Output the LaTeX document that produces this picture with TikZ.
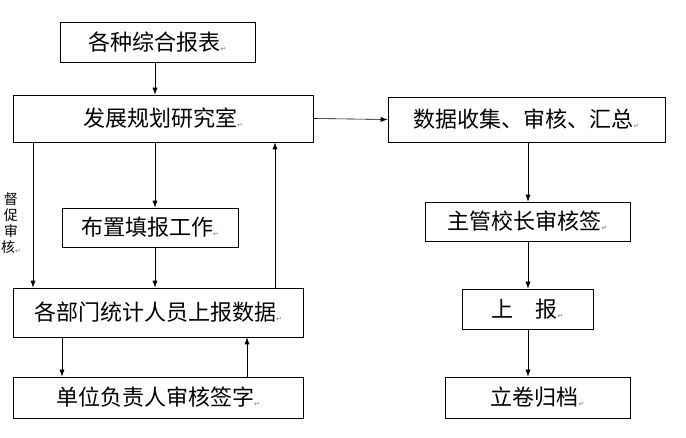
\documentclass[tikz,border=0pt]{standalone}
\usepackage{fontspec}
\setmainfont{Noto Sans CJK SC}
\newfontfamily\markfont{DejaVu Sans}
\usetikzlibrary{arrows.meta}
\newcommand{\pmark}{{\markfont\fontsize{7}{7}\selectfont\color{gray}\raisebox{-1pt}{↵}}}
\tikzset{
  box/.style={draw, semithick, rectangle, inner sep=0pt, font=\fontsize{22}{24}\selectfont},
  flow/.style={-{Latex[length=7pt,width=5pt]}, semithick}
}
\begin{document}
\begin{tikzpicture}[x=1pt, y=-1pt]
\useasboundingbox (0,0) rectangle (686,438);
% left column
\node[box, minimum width=195, minimum height=40] (report) at (157.5,42) {各种综合报表\pmark};
\node[box, minimum width=300, minimum height=47] (office) at (163,118.5) {发展规划研究室\pmark};
\node[box, minimum width=176, minimum height=39] (assign) at (150,227.5) {布置填报工作\pmark};
\node[box, minimum width=290, minimum height=49] (depts) at (158,312.5) {各部门统计人员上报数据\pmark};
\node[box, minimum width=290, minimum height=41] (head) at (158,397.5) {单位负责人审核签字\pmark};
% right column
\node[box, minimum width=277, minimum height=45] (collect) at (526.5,119.5) {数据收集、审核、汇总\pmark};
\node[box, minimum width=205, minimum height=39] (vp) at (527.5,221.5) {主管校长审核签\pmark};
\node[box, minimum width=131, minimum height=40] (submit) at (527.5,309) {上\hspace{1em}报\pmark};
\node[box, minimum width=185, minimum height=41] (archive) at (537.5,397.5) {立卷归档\pmark};
% side label
\node[font=\fontsize{14}{16}\selectfont, align=center, inner sep=0pt] (urge) at (11,223) {督\\促\\审\\核\pmark};
% connectors
\draw[flow] (report.south -| 155,0) -- (office.north -| 155,0);
\draw[flow] (office.east) -- (collect.west);
\draw[flow] (office.south -| 155,0) -- (assign.north -| 155,0);
\draw[flow] (assign.south -| 155,0) -- (depts.north -| 155,0);
\draw[flow] (office.south -| 33,0) -- (depts.north -| 33,0);
\draw[flow] (depts.north -| 275,0) -- (office.south -| 275,0);
\draw[flow] (depts.south -| 62,0) -- (head.north -| 62,0);
\draw[flow] (head.north -| 247,0) -- (depts.south -| 247,0);
\draw[flow] (collect.south -| 528,0) -- (vp.north -| 528,0);
\draw[flow] (vp.south -| 528,0) -- (submit.north -| 528,0);
\draw[flow] (submit.south -| 528,0) -- (archive.north -| 528,0);
\end{tikzpicture}
\end{document}
